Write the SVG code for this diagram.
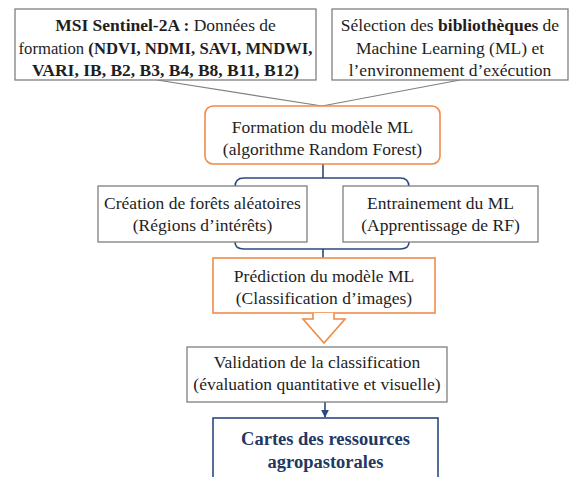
<svg xmlns="http://www.w3.org/2000/svg" width="570" height="477" viewBox="0 0 570 477">
<defs>
<style>
text{font-family:"Liberation Serif","Times New Roman",serif;font-size:17.5px;fill:#1e1e1e;text-anchor:middle}
.b{font-weight:bold}
.gray{fill:#fff;stroke:#7f7f7f;stroke-width:1.3}
.org{fill:#fff;stroke:#f08c46;stroke-width:1.6}
.blue{fill:none;stroke:#2b4a7e;stroke-width:1.6}
.con{fill:none;stroke:#7f7f7f;stroke-width:1.2}
.navy{fill:#1f3864;font-weight:bold;font-size:18.5px}
</style>
<marker id="ah" viewBox="0 0 10 10" refX="9" refY="5" markerWidth="5" markerHeight="5" orient="auto"><path d="M0,0L10,5L0,10z" fill="#2b4a7e"/></marker>
</defs>
<rect width="570" height="477" fill="#fff"/>
<g id="connectors">
<path class="con" d="M157,80 L322,106 L460,80"/>
<path class="blue" d="M323,164 V178 M235,187 Q235,178 244,178 H400 Q409,178 409,187"/>
<path class="blue" d="M235,242 Q235,249 244,249 H400 Q409,249 409,242 M323,249 V258"/>
<path class="blue" d="M325,402 V417" marker-end="url(#ah)"/>
</g>
<g id="msi">
<rect class="gray" x="15" y="9" width="301" height="71"/>
<text x="165.5" y="31"><tspan class="b">MSI Sentinel-2A :</tspan> Données de</text>
<text x="165.5" y="54" textLength="294" lengthAdjust="spacingAndGlyphs">formation <tspan class="b">(NDVI, NDMI, SAVI, MNDWI,</tspan></text>
<text x="165.5" y="76" class="b">VARI, IB, B2, B3, B4, B8, B11, B12)</text>
</g>
<g id="selection">
<rect class="gray" x="332" y="9" width="236" height="71"/>
<text x="450" y="31">Sélection des <tspan class="b">bibliothèques</tspan> de</text>
<text x="450" y="54">Machine Learning (ML) et</text>
<text x="450" y="76">l’environnement d’exécution</text>
</g>
<g id="formation">
<rect class="org" x="205" y="106" width="235" height="58" rx="8"/>
<text x="322.5" y="133">Formation du modèle ML</text>
<text x="322.5" y="155">(algorithme Random Forest)</text>
</g>
<g id="creation">
<rect class="gray" x="98" y="186" width="209" height="56"/>
<text x="202.5" y="209">Création de forêts aléatoires</text>
<text x="202.5" y="231">(Régions d’intérêts)</text>
</g>
<g id="entrainement">
<rect class="gray" x="343" y="186" width="195" height="56"/>
<text x="440.5" y="209">Entrainement du ML</text>
<text x="440.5" y="231">(Apprentissage de RF)</text>
</g>
<g id="prediction">
<rect class="org" x="213" y="258" width="222" height="55"/>
<text x="324" y="282">Prédiction du modèle ML</text>
<text x="324" y="304">(Classification d’images)</text>
<path class="org" d="M313,313 V319 H303 L324,343 L345,319 H334 V313"/>
</g>
<g id="validation">
<rect class="gray" x="187" y="347" width="260" height="55"/>
<text x="317" y="368">Validation de la classification</text>
<text x="317" y="390">(évaluation quantitative et visuelle)</text>
</g>
<g id="cartes">
<rect x="213" y="418" width="225" height="62" fill="#fff" stroke="#2b4a7e" stroke-width="1.6"/>
<text class="navy" x="325.5" y="445">Cartes des ressources</text>
<text class="navy" x="325.5" y="468">agropastorales</text>
</g>
</svg>
